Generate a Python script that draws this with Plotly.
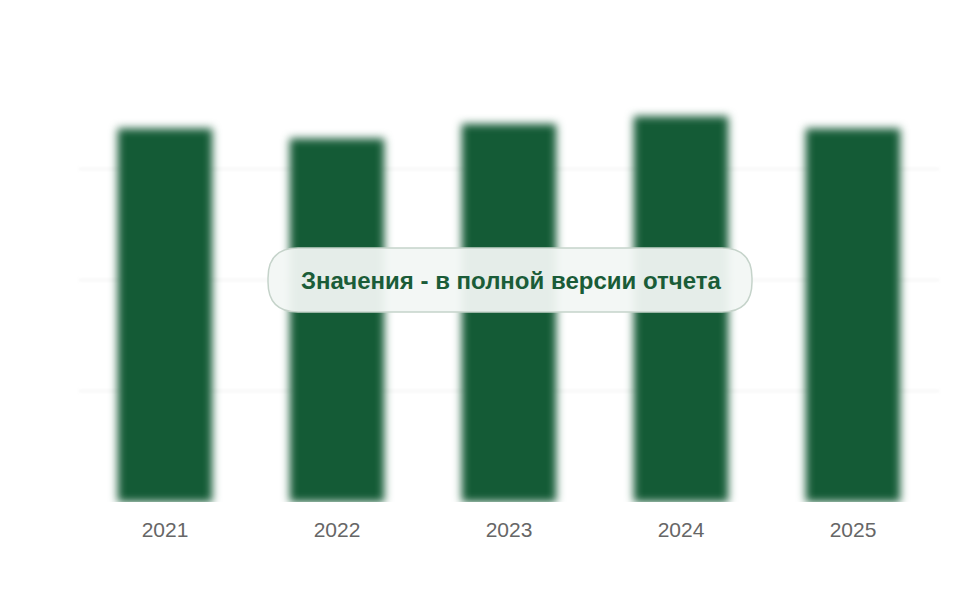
import plotly.graph_objects as go

years = ["2021", "2022", "2023", "2024", "2025"]
values = [3.36, 3.27, 3.40, 3.47, 3.36]
tick_vals = [0, 1, 2, 3, 4]

bar_color = "#145B36"
label_text = "Значения - в полной версии отчета"

fig = go.Figure()
fig.add_trace(go.Bar(x=years, y=values, marker=dict(color=bar_color, line=dict(width=0)),
                     hoverinfo="skip"))

OFF = 8  # default page body margin
W, H = 960, 600
# desired plot area in page pixels
PX0, PX1, PY0, PY1 = 79, 939, 57, 502
L, R, T, B = PX0 - OFF, W + OFF - PX1, PY0 - OFF, H + OFF - PY1
pw, ph = PX1 - PX0, PY1 - PY0

def px(x):
    return (x - PX0) / pw

def py(y):
    return (PY1 - y) / ph

# rounded pill box for overlay label
x0, x1, y0, y1, r = 268, 752, 248, 312, 30
path = (f"M {px(x0+r)},{py(y0)} L {px(x1-r)},{py(y0)} "
        f"Q {px(x1)},{py(y0)} {px(x1)},{py(y0+r)} L {px(x1)},{py(y1-r)} "
        f"Q {px(x1)},{py(y1)} {px(x1-r)},{py(y1)} L {px(x0+r)},{py(y1)} "
        f"Q {px(x0)},{py(y1)} {px(x0)},{py(y1-r)} L {px(x0)},{py(y0+r)} "
        f"Q {px(x0)},{py(y0)} {px(x0+r)},{py(y0)} Z")
fig.add_shape(type="path", path=path, xref="paper", yref="paper",
              fillcolor="rgba(242,246,244,0.94)", line=dict(color="#C5D3CA", width=1.5),
              layer="above")
fig.add_annotation(text=f"<b>{label_text}</b>", xref="paper", yref="paper",
                   x=px(511), y=py(280), showarrow=False,
                   font=dict(family="Liberation Sans, Arial", size=24, color="#1A5C38"))

fig.update_layout(
    width=W, height=H,
    margin=dict(l=L, r=R, t=T, b=B),
    paper_bgcolor="white", plot_bgcolor="white",
    bargap=0.45, showlegend=False,
    xaxis=dict(showgrid=False, showline=False, ticks="", ticklabelstandoff=13,
               tickfont=dict(family="Liberation Sans, Arial", size=21, color="#666666")),
    yaxis=dict(range=[0, 4.003], tickvals=tick_vals, showticklabels=False,
               showgrid=True, gridcolor="#F4F4F4", gridwidth=2, zeroline=False),
)

post = """
var s=document.createElement('style');
s.innerHTML='.trace.bars .point path{filter:blur(4px);} .gridlayer path{filter:blur(1.5px);}';
document.head.appendChild(s);
"""
fig.write_html("out.html", post_script=post)
